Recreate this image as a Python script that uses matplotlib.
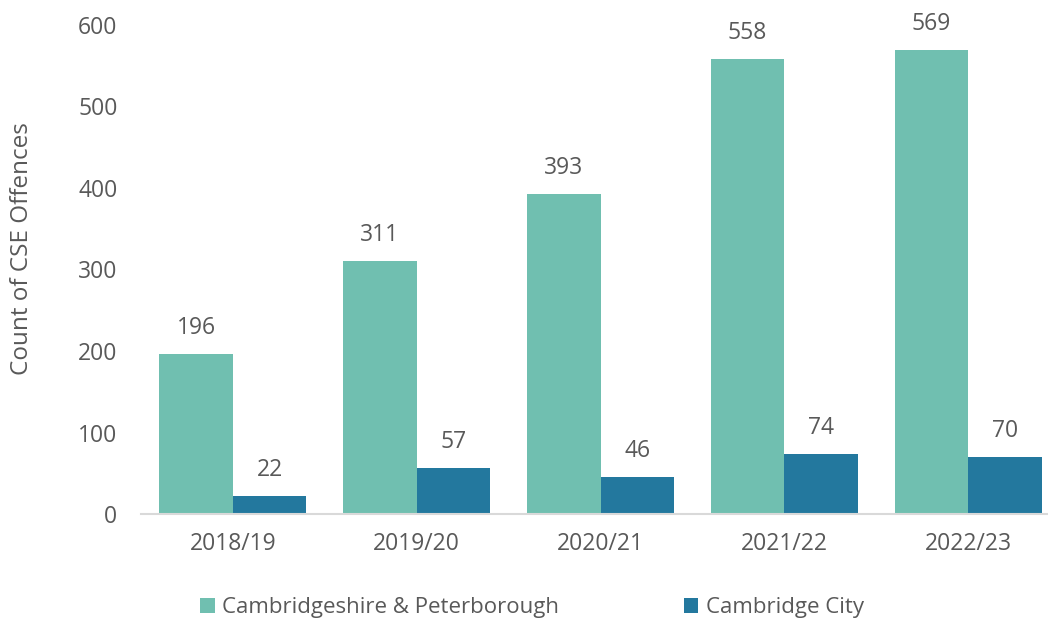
import numpy as np
from matplotlib import pyplot as plt

plt.rcParams['font.family'] = ['Open Sans', 'DejaVu Sans']

#Data
years = ["2018/19", "2019/20", "2020/21", "2021/22", "2022/23"]
county = [196, 311, 393, 558, 569]
city = [22, 57, 46, 74, 70]

teal = "#70BFB0"
blue = "#23789E"
grey = "#595959"
fs = 16.5

#Figure and axes, axes runs a little past the right edge
W, H = 1048, 623
fig = plt.figure(figsize=(W/100, H/100), dpi=100)
left, right, top, bottom = 141, 1060, 25, 514
ax = fig.add_axes([left/W, 1-bottom/H, (right-left)/W, (bottom-top)/H])

x = np.arange(len(years))
w = 0.4
b1 = ax.bar(x-w/2, county, w, color=teal, label="Cambridgeshire & Peterborough")
b2 = ax.bar(x+w/2, city, w, color=blue, label="Cambridge City")

for bars, vals in [(b1, county), (b2, city)]:
    for rect, v in zip(bars, vals):
        ax.annotate(str(v), (rect.get_x()+rect.get_width()/2, v),
                    xytext=(0, 10), textcoords="offset points",
                    ha="center", va="bottom", fontsize=fs, color=grey)

ax.set_xlim(-0.5, len(years)-0.5)
ax.set_ylim(0, 600)
ax.set_yticks(np.arange(0, 601, 100))
ax.set_xticks(x)
ax.set_xticklabels(years)
ax.tick_params(axis="both", length=0, labelsize=fs, labelcolor=grey)
ax.tick_params(axis="y", pad=17)
ax.tick_params(axis="x", pad=13)

for s in ["top", "right", "left"]:
    ax.spines[s].set_visible(False)
ax.spines["bottom"].set_color("#D9D9D9")
ax.spines["bottom"].set_linewidth(1.5)

fig.text(22/W, 1-249/H, "Count of CSE Offences", rotation=90,
         ha="center", va="center", fontsize=17.5, color=grey)

ax.legend(loc="center", bbox_to_anchor=(532/W, 1-608/H),
          bbox_transform=fig.transFigure, ncol=2, frameon=False,
          fontsize=16, labelcolor=grey, handlelength=0.65, handleheight=0.65,
          handletextpad=0.35, columnspacing=5.6)

plt.savefig("out.png", dpi=100)
